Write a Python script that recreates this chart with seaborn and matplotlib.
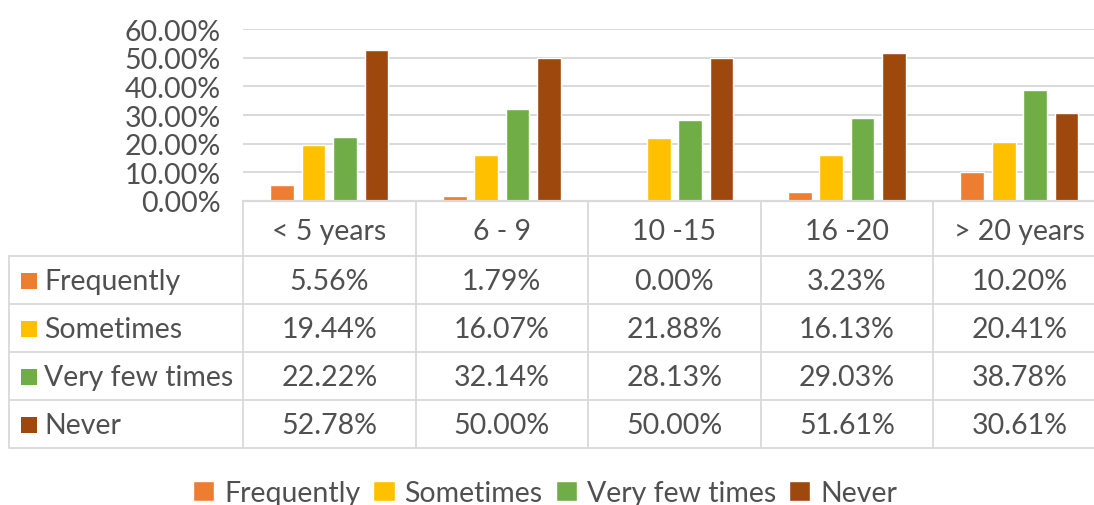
import matplotlib
matplotlib.use("Agg")
import matplotlib.pyplot as plt
from matplotlib.patches import Rectangle
from matplotlib.ticker import FuncFormatter
import seaborn as sns
import pandas as pd

# Survey responses by years of experience (share of respondents)
categories = ["< 5 years", "6 - 9", "10 -15", "16 -20", "> 20 years"]
series = ["Frequently", "Sometimes", "Very few times", "Never"]
frequently = [0.0556, 0.0179, 0.0000, 0.0323, 0.1020]
sometimes = [0.1944, 0.1607, 0.2188, 0.1613, 0.2041]
very_few = [0.2222, 0.3214, 0.2813, 0.2903, 0.3878]
never = [0.5278, 0.5000, 0.5000, 0.5161, 0.3061]
y_ticks = [0.0, 0.1, 0.2, 0.3, 0.4, 0.5, 0.6]

colors = ["#ED7D31", "#FFC000", "#70AD47", "#9E480E"]
text_color = "#505050"
line_color = "#D9D9D9"

values = [frequently, sometimes, very_few, never]
df = pd.DataFrame(
    [(c, s, v) for s, vals in zip(series, values) for c, v in zip(categories, vals)],
    columns=["group", "response", "share"],
)

sns.set_theme(style="white")
plt.rcParams["font.family"] = ["Lato", "DejaVu Sans"]
FS = 20.5

W, H = 1094, 506
fig = plt.figure(figsize=(W / 100, H / 100), dpi=100)

# x extent shared by chart and table: one unit per category
x_lo, x_hi = -1.909, 4.433
col_px = 172.5

# ---- bar chart ----
ax = fig.add_axes([243 / W, (H - 202) / H, (W - 243) / W, 172 / H])
sns.barplot(
    data=df, x="group", y="share", hue="response", order=categories,
    hue_order=series, palette=colors, width=0.73, gap=0.24,
    saturation=1, ax=ax, legend=True, errorbar=None,
)
ax.set_xlim(-0.5, x_hi)
ax.set_ylim(0, 0.6)
ax.set_yticks(y_ticks)
ax.yaxis.set_major_formatter(FuncFormatter(lambda v, _: f"{v * 100:.2f}%"))
ax.tick_params(axis="y", length=0, pad=16, labelsize=FS, labelcolor=text_color)
ax.set_xticks([])
ax.set_xlabel("")
ax.set_ylabel("")
ax.yaxis.grid(True, color=line_color, lw=1.4)
ax.set_axisbelow(True)
for side in ["top", "right", "left"]:
    ax.spines[side].set_visible(False)
ax.spines["bottom"].set_color(line_color)
ax.spines["bottom"].set_linewidth(1.6)

handles, labels = ax.get_legend_handles_labels()
ax.get_legend().remove()

# ---- data table ----
header_h = 54 / 48
n_rows = len(series)
tb = fig.add_axes([0, (H - 449) / H, 1, (449 - 203) / H])
tb.set_xlim(x_lo, x_hi)
tb.set_ylim(header_h + n_rows, 0)
tb.axis("off")

left_edge = x_lo + 9 / col_px
bounds = [i - 0.5 for i in range(len(categories) + 1)]
lw = 1.3
# vertical grid lines
for b in bounds:
    tb.plot([b, b], [0, header_h + n_rows], color=line_color, lw=lw, clip_on=False)
tb.plot([left_edge, left_edge], [header_h, header_h + n_rows], color=line_color, lw=lw)
# horizontal grid lines
for r in range(n_rows + 1):
    y = header_h + r
    tb.plot([left_edge, x_hi + 1], [y, y], color=line_color, lw=lw, clip_on=False)

for i, cat in enumerate(categories):
    tb.text(i, header_h / 2 + 0.05, cat, ha="center", va="center", fontsize=FS, color=text_color)

for r, (name, vals, col) in enumerate(zip(series, values, colors)):
    yc = header_h + r + 0.52
    tb.add_patch(Rectangle((x_lo + 21 / col_px, yc - 8 / 48), 16 / col_px, 16 / 48,
                           facecolor=col, edgecolor="none"))
    tb.text(x_lo + 44 / col_px, yc, name, ha="left", va="center", fontsize=FS, color=text_color)
    for i, v in enumerate(vals):
        tb.text(i, yc, f"{v * 100:.2f}%", ha="center", va="center", fontsize=FS, color=text_color)

# ---- legend ----
leg = fig.legend(
    handles, labels, loc="center", bbox_to_anchor=(545 / W, 1 - 494 / H), ncol=4,
    frameon=False, fontsize=FS, handlelength=0.75, handleheight=0.75,
    handletextpad=0.35, columnspacing=0.45, borderaxespad=0,
)
for t in leg.get_texts():
    t.set_color(text_color)

fig.savefig("out.png", dpi=100)
